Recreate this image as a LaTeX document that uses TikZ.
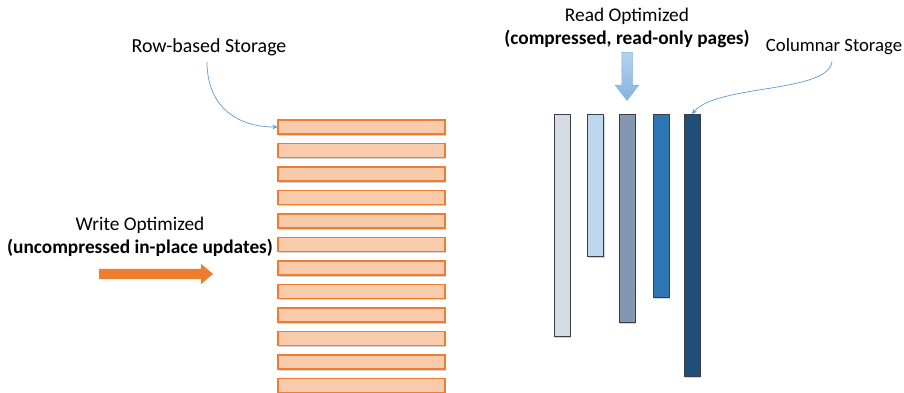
\documentclass[tikz,border=0pt]{standalone}
\usepackage{fontspec}
\setmainfont{Carlito}
\usetikzlibrary{shapes.arrows, shadows, arrows.meta}

\definecolor{rowfill}{HTML}{F8CBAD}
\definecolor{rowline}{HTML}{ED7D31}
\definecolor{colline}{HTML}{3B3F45}
\definecolor{connblue}{HTML}{5B9BD5}
\definecolor{writeorange}{HTML}{ED7D31}

\tikzset{
    txt/.style={font=\fontsize{19.4}{23}\selectfont, align=center, inner sep=0pt},
    rowbox/.style={draw=rowline, fill=rowfill, line width=1.1bp,
        minimum width=167bp, minimum height=14bp, inner sep=0pt,
        drop shadow={shadow xshift=1bp, shadow yshift=-1.5bp, opacity=0.35}},
    colbox/.style={draw=colline, line width=1bp, anchor=north,
        minimum width=16bp, inner sep=0pt,
        drop shadow={shadow xshift=1bp, shadow yshift=-1.5bp, opacity=0.35}},
    conn/.style={-{Stealth[length=5bp, width=4.5bp]}, draw=connblue, line width=0.7bp},
}

\begin{document}
\begin{tikzpicture}[x=1bp, y=-1bp]
    \useasboundingbox (0, 0) rectangle (904, 392);

    % Row-based storage
    \foreach \i in {0,...,11}
        \node [rowbox] (row\i) at (361.5, 127 + 23.5*\i) {};
    \node [txt, font=\fontsize{20}{23}\selectfont] (rowlbl) at (209, 47) {Row-based Storage};
    \draw [conn] ([xshift=-2bp, yshift=-6bp]rowlbl.south) .. controls +(0, 45) and +(-40, 0) .. (row0.west);

    % Write optimized
    \node [txt] (writelbl) at (140, 237) {Write Optimized\\\textbf{(uncompressed in-place updates)}};
    \node [single arrow, fill=writeorange, draw=none, inner xsep=0pt, inner ysep=5bp,
        minimum height=114bp, single arrow head extend=5bp,
        single arrow tip angle=80] (writearr) at (153, 274) {};

    % Columnar storage
    \foreach \name/\x/\bot/\col in {col1/562/336/D6DCE4, col2/595.5/256/BDD7EE,
                                    col3/627/322/8497B0, col4/661/297/2E75B6,
                                    col5/692/376/1F4E79} {
        \definecolor{cf}{HTML}{\col}
        \node [colbox, fill=cf, minimum height={(\bot - 114)*1bp}] (\name) at (\x, 114) {};
    }
    \node [txt, font=\fontsize{18.8}{23}\selectfont] (collbl) at (834, 47) {Columnar Storage};
    \draw [conn] ([xshift=-2bp, yshift=-6bp]collbl.south) .. controls +(-3, 32) and +(25, -30) .. (col5.north);

    % Read optimized
    \node [txt] (readlbl) at (627, 28) {Read Optimized\\\textbf{(compressed, read-only pages)}};
    \node [single arrow, shape border rotate=270, top color=connblue!45, bottom color=connblue!75,
        draw=connblue!80, line width=0.5bp, inner xsep=5bp, inner ysep=0pt,
        minimum height=48bp, single arrow head extend=6.5bp,
        single arrow tip angle=75] (readarr) at (627, 73) {};

\end{tikzpicture}
\end{document}
